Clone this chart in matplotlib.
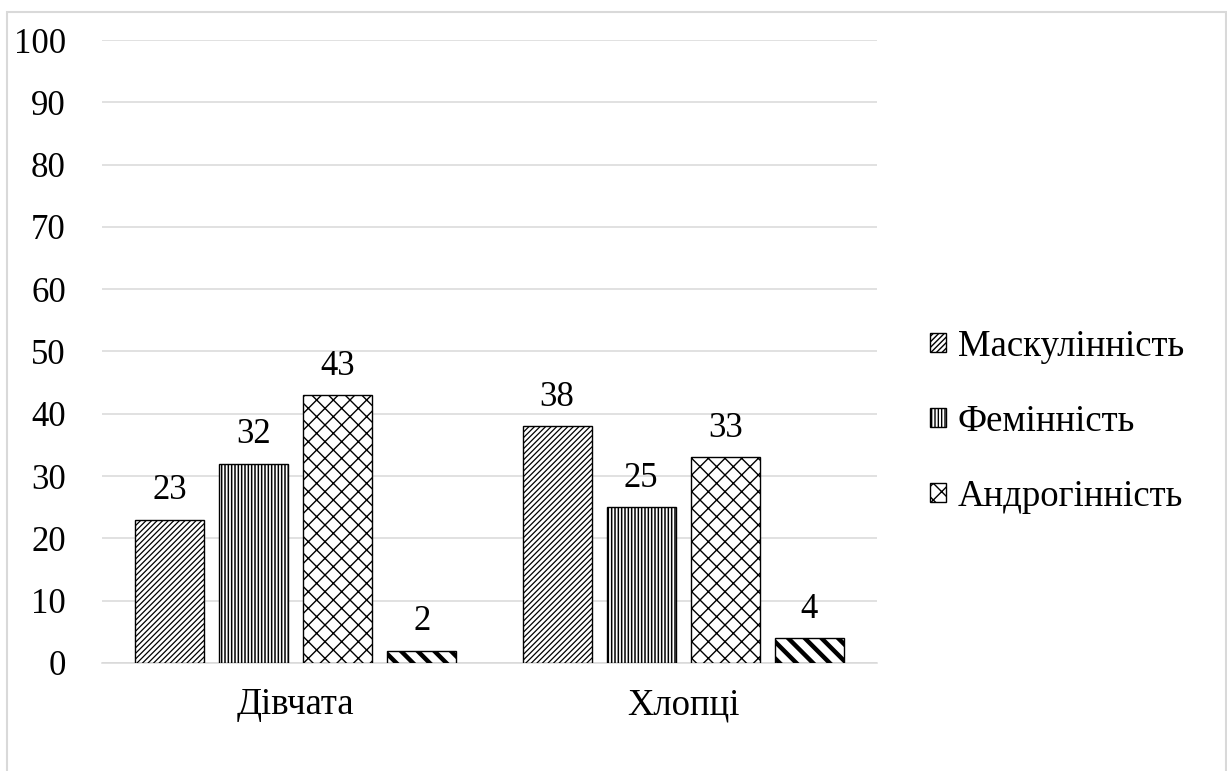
import numpy as np
import matplotlib.pyplot as plt
from matplotlib.patches import Rectangle

plt.rcParams['font.family'] = ['Liberation Serif', 'DejaVu Serif']
plt.rcParams['font.size'] = 25
plt.rcParams['hatch.linewidth'] = 1.0

# Data (percent)

categories = ['Дівчата', 'Хлопці']
masc = [23, 38]
fem = [32, 25]
andro = [43, 33]
undiff = [2, 4]

series = [
    (masc, 'Маскулінність', '//////', 0.9),
    (fem, 'Фемінність', '|||||', 1.1),
    (andro, 'Андрогінність', 'xx', 1.0),
    (undiff, '_nolegend_', '\\\\', 3.2),
]

fig = plt.figure(figsize=(12.27, 7.71), dpi=100)
ax = fig.add_axes([0.0831, 0.1401, 0.6316, 0.8080])

x = np.arange(len(categories))
width = 0.178
step = 0.217
offsets = (np.arange(len(series)) - 1.5) * step

for (vals, label, hatch, hlw), off in zip(series, offsets):
    with plt.rc_context({'hatch.linewidth': hlw}):
        bars = ax.bar(x + off, vals, width, color='white', edgecolor='black',
                      linewidth=1.0, hatch=hatch, label=label, zorder=3)
    for b in bars:
        if hasattr(b, 'set_hatch_linewidth'):
            b.set_hatch_linewidth(hlw)
    ax.bar_label(bars, padding=9, fontsize=25)

# Axes styling

ax.set_xlim(-0.5, 1.5)
ax.set_ylim(0, 100)
ax.set_yticks(np.arange(0, 101, 10))
ax.set_xticks(x)
ax.set_xticklabels(categories, fontsize=26.5)
ax.tick_params(axis='both', length=0)
ax.tick_params(axis='y', pad=26, labelsize=25)
ax.tick_params(axis='x', pad=18)
ax.yaxis.grid(True, color='#d9d9d9', linewidth=1.1, zorder=0)
ax.set_axisbelow(True)
for side in ['left', 'right', 'top']:
    ax.spines[side].set_visible(False)
ax.spines['bottom'].set_color('#d9d9d9')
ax.spines['bottom'].set_linewidth(1.1)

# Legend (three main types only)

fig.legend(loc='center left', bbox_to_anchor=(0.731, 0.453), frameon=False,
           fontsize=26.5, handlelength=0.42, handleheight=0.42,
           handletextpad=0.33, labelspacing=1.1)

# Outer chart border

fig.add_artist(Rectangle((0.0061, -0.02), 0.9927, 1.0038,
                         transform=fig.transFigure, fill=False,
                         edgecolor='#d9d9d9', linewidth=1.5))

fig.savefig('out.png', dpi=100)
